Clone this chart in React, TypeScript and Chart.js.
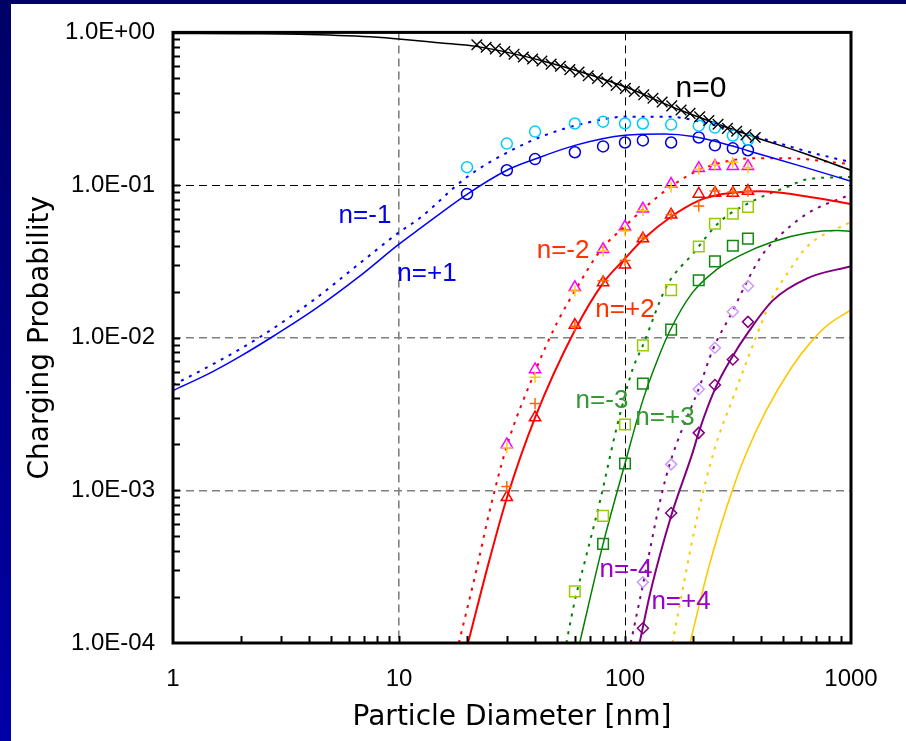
import { useEffect, useRef } from 'react';
import { Chart, registerables } from 'chart.js';

Chart.register(...registerables);

// ---- axis ticks ----
const xTickValues = [1, 10, 100, 1000];
const yTickValues = [1e-4, 1e-3, 1e-2, 1e-1, 1];
const xMinorTicks = [2, 3, 4, 5, 6, 7, 8, 9, 10, 20, 30, 40, 50, 60, 70, 80, 90, 100, 200, 300, 400, 500, 600, 700, 800, 900];
const yMinorTicks = [2e-4, 3e-4, 4e-4, 5e-4, 6e-4, 7e-4, 8e-4, 9e-4, 1e-3, 2e-3, 3e-3, 4e-3, 5e-3, 6e-3, 7e-3, 8e-3, 9e-3, 1e-2, 2e-2, 3e-2, 4e-2, 5e-2, 6e-2, 7e-2, 8e-2, 9e-2, 1e-1, 0.2, 0.3, 0.4, 0.5, 0.6, 0.7, 0.8, 0.9];

// ---- theory curves ----
const n0Dp = [1, 2, 4, 8, 15, 22, 45, 100, 175, 380, 600, 1000];
const n0P = [0.985, 0.98, 0.97, 0.93, 0.855, 0.81, 0.64, 0.44, 0.31, 0.205, 0.164, 0.125];

const nP1Dp = [1, 1.5, 2, 2.8, 4.2, 6.7, 10, 12.4, 20, 30, 40, 60, 100, 150, 200, 300, 350, 600, 1000];
const nP1P = [0.0045, 0.006, 0.0076, 0.0103, 0.0152, 0.0253, 0.041, 0.052, 0.087, 0.125, 0.148, 0.182, 0.212, 0.216, 0.208, 0.18, 0.168, 0.133, 0.106];
const nM1Dp = [1, 1.5, 2.4, 4.2, 6.7, 10, 12.4, 20, 32, 45, 68, 100, 158, 215, 450, 640, 1000];
const nM1P = [0.0049, 0.0067, 0.010, 0.0177, 0.0307, 0.049, 0.061, 0.113, 0.171, 0.214, 0.256, 0.28, 0.28, 0.26, 0.193, 0.166, 0.141];

const nP2Dp = [20.2, 25, 30, 40, 60, 80, 100, 120, 160, 212, 248, 300, 400, 520, 640, 870, 1000];
const nP2P = [1e-4, 3.4e-4, 8.9e-4, 3.0e-3, 0.0112, 0.0228, 0.033, 0.044, 0.062, 0.079, 0.085, 0.089, 0.091, 0.088, 0.084, 0.078, 0.075];
const nM2Dp = [18.4, 22, 25, 30, 40, 50, 61.5, 77.6, 101.6, 125, 160, 200, 265, 370, 500, 1000];
const nM2P = [1e-4, 3.0e-4, 7.0e-4, 1.95e-3, 6.0e-3, 0.0125, 0.0215, 0.037, 0.055, 0.073, 0.098, 0.12, 0.14, 0.15, 0.15, 0.137];

const nP3Dp = [63, 80, 100, 120, 140, 158, 198, 255, 322, 450, 640, 870, 1000];
const nP3P = [1e-4, 4.46e-4, 1.5e-3, 3.9e-3, 7.3e-3, 0.0111, 0.0196, 0.028, 0.0345, 0.0425, 0.0485, 0.0503, 0.0498];
const nM3Dp = [55, 60, 67, 77.5, 92, 108, 120, 153, 200, 263, 368, 520, 640, 1000];
const nM3P = [1e-4, 1.9e-4, 3.6e-4, 8.5e-4, 2.6e-3, 6.2e-3, 8.9e-3, 0.0218, 0.0356, 0.0575, 0.0787, 0.097, 0.109, 0.113];

const nP4Dp = [116, 130, 160, 200, 212, 250, 300, 350, 450, 640, 1000];
const nP4P = [1e-4, 2.2e-4, 6.8e-4, 1.8e-3, 2.4e-3, 4.6e-3, 7.6e-3, 0.0108, 0.0175, 0.0245, 0.0294];
const nM4Dp = [106, 120, 143, 158, 215, 245, 300, 350, 400, 450, 640, 1000];
const nM4P = [1e-4, 2.4e-4, 8.5e-4, 1.5e-3, 4.9e-3, 8.4e-3, 0.015, 0.024, 0.034, 0.042, 0.065, 0.087];

const nP5Dp = [194, 230, 263, 297, 339, 420, 550, 670, 800, 1000];
const nP5P = [1e-4, 2.8e-4, 5.6e-4, 9.8e-4, 1.66e-3, 3.3e-3, 6.5e-3, 9.5e-3, 0.0123, 0.0152];
const nM5Dp = [162, 207, 250, 300, 348, 382, 450, 520, 640, 1000];
const nM5P = [1e-4, 6.3e-4, 1.9e-3, 4.0e-3, 7.2e-3, 0.0103, 0.0185, 0.026, 0.0396, 0.0575];

// ---- measured data ----
const n0MeasDp = [22.1, 24.3, 26.7, 29.4, 32.3, 35.5, 39.0, 42.9, 47.1, 51.8, 57.0, 62.6, 68.8, 75.6, 83.1, 91.4, 100.4, 110, 121, 133, 146, 161, 177, 194, 214, 235, 258, 284, 312, 343, 377];
const n0MeasP = [0.83, 0.80, 0.78, 0.75, 0.72, 0.69, 0.67, 0.65, 0.62, 0.60, 0.57, 0.55, 0.52, 0.50, 0.475, 0.45, 0.43, 0.41, 0.39, 0.37, 0.35, 0.33, 0.31, 0.295, 0.28, 0.265, 0.25, 0.235, 0.225, 0.213, 0.205];

const meas1Dp = [20, 30, 40, 60, 80, 100, 120, 160, 212, 250, 300, 350];
const measP1 = [0.0874, 0.125, 0.148, 0.164, 0.179, 0.190, 0.196, 0.190, 0.205, 0.182, 0.174, 0.169];
const measM1 = [0.131, 0.187, 0.224, 0.253, 0.26, 0.253, 0.253, 0.249, 0.245, 0.238, 0.211, 0.198];

const meas2Dp = [30, 40, 60, 80, 100, 120, 160, 212, 250, 300, 350];
const measP2a = [9.0e-4, 3.0e-3, 0.0121, 0.023, 0.030, 0.0446, 0.0638, 0.0874, 0.0887, 0.0887, 0.0914];
const measP2b = [1.06e-3, 3.7e-3, 0.0119, 0.0236, 0.032, 0.045, 0.064, 0.073, 0.0914, 0.090, 0.091];
const measM2a = [2.0e-3, 6.2e-3, 0.0214, 0.0379, 0.0534, 0.0699, 0.1015, 0.129, 0.133, 0.133, 0.133];
const measM2b = [1.9e-3, 5.5e-3, 0.0202, 0.037, 0.050, 0.068, 0.097, 0.127, 0.135, 0.141, 0.13];

const measP3Dp = [80, 100, 120, 160, 212, 250, 300, 350];
const measP3 = [4.46e-4, 1.5e-3, 5.0e-3, 0.0113, 0.0238, 0.0316, 0.040, 0.0446];
const measM3Dp = [60, 80, 100, 120, 160, 212, 250, 300, 350];
const measM3 = [2.18e-4, 6.8e-4, 2.7e-3, 8.9e-3, 0.0205, 0.0396, 0.0558, 0.0648, 0.072];

const meas4Dp = [120, 160, 212, 250, 300, 350];
const measP4 = [1.25e-4, 7.1e-4, 2.38e-3, 4.9e-3, 7.2e-3, 0.0127];
const measM4 = [2.5e-4, 1.48e-3, 4.6e-3, 8.6e-3, 0.0148, 0.0218];

// ---- curve labels ----
const labelTexts = ['n=0', 'n=-1', 'n=+1', 'n=-2', 'n=+2', 'n=-3', 'n=+3', 'n=-4', 'n=+4'];
const labelDp = [217, 7.07, 13.3, 53.2, 100, 79.1, 150.3, 101, 177];
const labelP = [0.426, 0.0629, 0.0264, 0.0373, 0.0152, 3.84e-3, 2.98e-3, 3.03e-4, 1.85e-4];
const labelColors = ['#000000', '#0000EE', '#0000EE', '#FF3300', '#FF3300', '#339933', '#339933', '#9900CC', '#9900CC'];
const labelSizes = [30, 26, 26, 26, 26, 26, 26, 26, 26];

const pts = (xs: number[], ys: number[]) => xs.map((x, i) => ({ x, y: ys[i] }));

const ARIAL = "'Liberation Sans', Arial, sans-serif";
const TITLE_FONT = "'DejaVu Sans', Verdana, sans-serif";

function curve(xs: number[], ys: number[], color: string, dotted: boolean, width = 1.6) {
  return {
    data: pts(xs, ys),
    showLine: true,
    borderColor: color,
    borderWidth: dotted ? 2 : width,
    borderDash: dotted ? [3, 6] : [],
    borderCapStyle: 'butt',
    pointRadius: 0,
    cubicInterpolationMode: 'monotone',
    fill: false,
  };
}

function markers(xs: number[], ys: number[], color: string, style: string, radius: number, bw = 1.5) {
  return {
    data: pts(xs, ys),
    showLine: false,
    pointStyle: style,
    pointRadius: radius,
    pointBorderColor: color,
    pointBackgroundColor: 'rgba(0,0,0,0)',
    pointBorderWidth: bw,
    borderColor: color,
    backgroundColor: 'rgba(0,0,0,0)',
  };
}

function fmtY(v: number) {
  const e = Math.round(Math.log10(v));
  return '1.0E' + (e < 0 ? '-' : '+') + String(Math.abs(e)).padStart(2, '0');
}

const decorPlugin = {
  id: 'decor',
  afterDatasetsDraw(chart: any) {
    const { ctx, chartArea: a, scales } = chart;
    const x = scales.x;
    const y = scales.y;
    ctx.save();
    ctx.strokeStyle = '#000';
    ctx.lineWidth = 2;
    ctx.beginPath();
    for (const d of xMinorTicks) {
      const px = Math.round(x.getPixelForValue(d)) + 0.5;
      ctx.moveTo(px, a.bottom);
      ctx.lineTo(px, a.bottom - 7);
    }
    for (const v of yMinorTicks) {
      const py = Math.round(y.getPixelForValue(v)) + 0.5;
      ctx.moveTo(a.left, py);
      ctx.lineTo(a.left + 7, py);
    }
    ctx.stroke();
    ctx.lineWidth = 3;
    ctx.strokeRect(a.left, a.top, a.right - a.left, a.bottom - a.top);
    ctx.textAlign = 'center';
    ctx.textBaseline = 'middle';
    labelTexts.forEach((t, i) => {
      ctx.font = `${labelSizes[i]}px ${ARIAL}`;
      ctx.fillStyle = labelColors[i];
      ctx.fillText(t, x.getPixelForValue(labelDp[i]), y.getPixelForValue(labelP[i]));
    });
    ctx.restore();
  },
};

export default function App() {
  const ref = useRef<HTMLCanvasElement | null>(null);

  useEffect(() => {
    if (!ref.current) return;
    const datasets: any[] = [
      markers(n0MeasDp, n0MeasP, '#000000', 'crossRot', 7.5, 1.4),
      markers(meas1Dp, measM1, '#00CCFF', 'circle', 5.5),
      markers(meas1Dp, measP1, '#0000DD', 'circle', 5.5),
      markers(meas2Dp, measM2b, '#FFCC00', 'cross', 5.5),
      markers(meas2Dp, measM2a, '#FF00FF', 'triangle', 6.5),
      markers(meas2Dp, measP2b, '#FF6600', 'cross', 5.5),
      markers(meas2Dp, measP2a, '#FF0000', 'triangle', 6.5),
      markers(measM3Dp, measM3, '#99CC00', 'rect', 7.5),
      markers(measP3Dp, measP3, '#118811', 'rect', 7.5),
      markers(meas4Dp, measM4, '#CC99FF', 'rectRot', 5.5),
      markers(meas4Dp, measP4, '#800080', 'rectRot', 5.5),
      curve(n0Dp, n0P, '#000000', false, 1.5),
      curve(nP1Dp, nP1P, '#0000FF', false, 1.5),
      curve(nM1Dp, nM1P, '#0000FF', true),
      curve(nP2Dp, nP2P, '#FF0000', false, 2),
      curve(nM2Dp, nM2P, '#FF0000', true),
      curve(nP3Dp, nP3P, '#008000', false, 1.5),
      curve(nM3Dp, nM3P, '#008000', true),
      curve(nP4Dp, nP4P, '#800080', false, 2),
      curve(nM4Dp, nM4P, '#800080', true),
      curve(nP5Dp, nP5P, '#FFC800', false, 1.6),
      curve(nM5Dp, nM5P, '#FFC800', true),
    ];

    const chart = new Chart(ref.current, {
      type: 'scatter',
      data: { datasets },
      plugins: [decorPlugin],
      options: {
        animation: false,
        responsive: false,
        devicePixelRatio: 1,
        events: [],
        layout: { padding: { left: 0, top: 27, right: 55, bottom: 0 } },
        plugins: { legend: { display: false }, tooltip: { enabled: false }, title: { display: false } },
        scales: {
          x: {
            type: 'logarithmic',
            min: 1,
            max: 1000,
            afterBuildTicks: (s: any) => {
              s.ticks = xTickValues.map((v) => ({ value: v }));
            },
            afterFit: (s: any) => {
              s.height = 98;
            },
            ticks: {
              autoSkip: false,
              maxRotation: 0,
              padding: 22,
              color: '#000',
              font: { family: ARIAL, size: 24 },
              callback: (v: any) => String(v),
            },
            grid: {
              drawTicks: false,
              color: (c: any) => {
                const v = c.tick ? c.tick.value : 0;
                if (v === 10) return '#808080';
                if (v === 100) return '#000000';
                return 'rgba(0,0,0,0)';
              },
              lineWidth: (c: any) => (c.tick && c.tick.value === 10 ? 1.6 : 1),
            },
            border: { display: false, dash: [8, 5] },
            title: {
              display: true,
              text: 'Particle Diameter [nm]',
              color: '#000',
              font: { family: TITLE_FONT, size: 28, weight: 'normal' },
              padding: { top: 0, bottom: 6 },
            },
          },
          y: {
            type: 'logarithmic',
            min: 1e-4,
            max: 1,
            afterBuildTicks: (s: any) => {
              s.ticks = yTickValues.map((v) => ({ value: v }));
            },
            afterFit: (s: any) => {
              s.width = 173;
            },
            ticks: {
              autoSkip: false,
              padding: 18,
              color: '#000',
              font: { family: ARIAL, size: 24 },
              callback: (v: any) => fmtY(Number(v)),
            },
            grid: {
              drawTicks: false,
              color: (c: any) => {
                const v = c.tick ? c.tick.value : 0;
                if (Math.abs(v - 0.1) < 1e-9) return '#000000';
                if (Math.abs(v - 0.01) < 1e-9 || Math.abs(v - 0.001) < 1e-9) return '#808080';
                return 'rgba(0,0,0,0)';
              },
              lineWidth: (c: any) => (c.tick && Math.abs(c.tick.value - 0.1) < 1e-9 ? 1 : 1.6),
            },
            border: { display: false, dash: [8, 5] },
            title: {
              display: true,
              text: 'Charging Probability',
              color: '#000',
              font: { family: TITLE_FONT, size: 28, weight: 'normal' },
              padding: { top: 24, bottom: 0 },
            },
          },
        },
      } as any,
    });
    return () => chart.destroy();
  }, []);

  return (
    <div style={{ position: 'fixed', left: 0, top: 0, width: 906, height: 741, background: '#ffffff', overflow: 'hidden' }}>
      <div style={{ position: 'absolute', left: 0, top: 0, width: 11, height: 741, background: 'linear-gradient(to bottom, #000066, #0000A8)' }} />
      <div style={{ position: 'absolute', left: 0, top: 0, width: 906, height: 4, background: '#000066' }} />
      <canvas ref={ref} width={906} height={741} style={{ position: 'absolute', left: 0, top: 0, width: 906, height: 741 }} />
    </div>
  );
}
